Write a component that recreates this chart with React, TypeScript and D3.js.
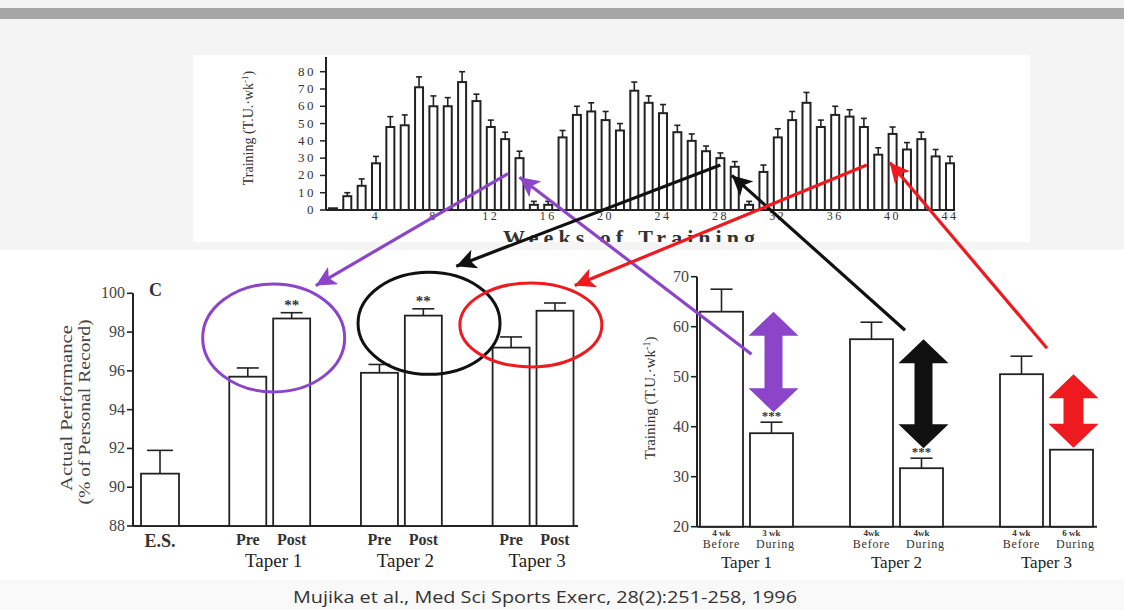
import React from 'react';
import * as d3 from 'd3';

// weekly training load over the season (T.U. per week), weeks 1..44
const weeklyLoad = [1, 8, 14, 27, 48, 49, 71, 60, 60, 74, 63, 48, 41, 30, 3, 3, 42, 55, 57, 52, 46, 69, 62, 56, 45, 40, 34, 30, 25, 3, 22, 42, 52, 62, 48, 55, 54, 48, 32, 44, 35, 41, 31, 27];
const weeklyErr = [0, 2, 4, 4, 6, 6, 6, 6, 5, 6, 4, 4, 4, 4, 2, 2, 4, 5, 5, 5, 4, 5, 4, 5, 4, 4, 3, 3, 3, 2, 4, 5, 5, 6, 4, 5, 4, 5, 4, 4, 4, 4, 4, 4];
const topTicksY = [0, 10, 20, 30, 40, 50, 60, 70, 80];
const topTicksX = [4, 8, 12, 16, 20, 24, 28, 32, 36, 40, 44];

// panel C: actual performance (% of personal record)
const esPerf = 90.7;
const esErr = 1.2;
const tapers = ['Taper 1', 'Taper 2', 'Taper 3'];
const perfPre = [95.7, 95.9, 97.2];
const perfPreErr = [0.45, 0.43, 0.55];
const perfPost = [98.7, 98.85, 99.1];
const perfPostErr = [0.3, 0.35, 0.4];
const perfStars = ['**', '**', ''];
const perfTicks = [88, 90, 92, 94, 96, 98, 100];

// training before / during each taper
const loadBefore = [63, 57.5, 50.5];
const loadBeforeErr = [4.5, 3.4, 3.6];
const loadDuring = [38.7, 31.7, 35.4];
const loadDuringErr = [2.2, 2, 0];
const loadStars = ['***', '***', ''];
const beforeLabels = ['4 wk', '4wk', '4 wk'];
const duringLabels = ['3 wk', '4wk', '6 wk'];
const loadTicks = [20, 30, 40, 50, 60, 70];

const taperColors = ['#8c45c9', '#111111', '#ee1a1f'];

const serif = '"Liberation Serif", "DejaVu Serif", serif';

export default function App() {
  // scales
  const xTop = d3.scaleLinear().domain([4, 44]).range([376, 950]);
  const yTop = d3.scaleLinear().domain([0, 80]).range([210, 71.7]);

  const xPerf = d3.scaleLinear().domain([0, 9]).range([160, 555]);
  const yPerf = d3.scaleLinear().domain([88, 100]).range([526, 293.3]);

  const xLoad = d3.scaleLinear().domain([0, 7]).range([721.5, 1071.5]);
  const yLoad = d3.scaleLinear().domain([20, 70]).range([526.7, 276.7]);

  const ink = '#222';

  const bar = (x, y0, y1, w, sw = 1.8) => (
    <rect x={x - w / 2} y={y1} width={w} height={y0 - y1} fill="#fff" stroke={ink} strokeWidth={sw} />
  );
  const err = (x, y, yE, cap) => (
    <g stroke={ink} strokeWidth={1.6}>
      <line x1={x} x2={x} y1={y} y2={yE} />
      <line x1={x - cap / 2} x2={x + cap / 2} y1={yE} y2={yE} />
    </g>
  );

  const dblArrow = (cx, yT, yB, color, headW, headL, shaftW) => {
    const p = [
      [cx, yT], [cx + headW / 2, yT + headL], [cx + shaftW / 2, yT + headL],
      [cx + shaftW / 2, yB - headL], [cx + headW / 2, yB - headL], [cx, yB],
      [cx - headW / 2, yB - headL], [cx - shaftW / 2, yB - headL],
      [cx - shaftW / 2, yT + headL], [cx - headW / 2, yT + headL],
    ];
    return <polygon points={p.map(d => d.join(',')).join(' ')} fill={color} />;
  };

  // annotation anchors (in each chart's own units)
  const links = [
    { from: [xTop(13.2), yTop(21)], to: [xPerf(3.55), yPerf(100.4)], back: [xLoad(0.6), yLoad(54.5)], backTo: [xTop(14), yTop(19)] },
    { from: [xTop(28), yTop(26)], to: [xPerf(6.75), yPerf(101.4)], back: [xLoad(3.67), yLoad(59.3)], backTo: [xTop(28.8), yTop(20)] },
    { from: [xTop(38.2), yTop(26)], to: [xPerf(9.45), yPerf(100.4)], back: [xLoad(6.51), yLoad(55.7)], backTo: [xTop(39.8), yTop(27.5)] },
  ];
  const ellipses = [
    { cx: xPerf(2.59), cy: yPerf(97.7), rx: 71, ry: 54 },
    { cx: xPerf(6.13), cy: yPerf(98.45), rx: 71, ry: 51 },
    { cx: xPerf(8.45), cy: yPerf(98.37), rx: 71, ry: 42 },
  ];

  return (
    <svg width={1124} height={610} style={{ position: 'absolute', left: 0, top: 0, display: 'block' }} fontFamily={serif}>
      <defs>
        {taperColors.map((c, i) => (
          <marker key={i} id={`ah${i}`} markerUnits="userSpaceOnUse" markerWidth={22} markerHeight={20}
            refX={20} refY={10} orient="auto">
            <path d="M0,0 L20,10 L0,20 L5,10 Z" fill={c} />
          </marker>
        ))}
        <clipPath id="topClip"><rect x={193} y={55} width={837} height={187} /></clipPath>
      </defs>

      {/* page background */}
      <rect width={1124} height={610} fill="#f4f4f4" />
      <rect x={0} y={8} width={1124} height={11} fill="#a6a6a6" />
      <rect x={0} y={250} width={1124} height={330} fill="#ffffff" />
      <rect x={0} y={580} width={1124} height={30} fill="#f9f9f9" />

      {/* top panel: weekly training */}
      <rect x={193} y={55} width={837} height={187} fill="#ffffff" />
      <g clipPath="url(#topClip)">
        <line x1={326} x2={326} y1={yTop(0)} y2={57} stroke={ink} strokeWidth={2} />
        <line x1={326} x2={955} y1={yTop(0)} y2={yTop(0)} stroke={ink} strokeWidth={1.8} />
        {topTicksY.map(t => (
          <g key={t}>
            <line x1={320} x2={326} y1={yTop(t)} y2={yTop(t)} stroke={ink} strokeWidth={1.5} />
            <text x={316} y={yTop(t) + 4} textAnchor="end" fontSize={13} letterSpacing={2.5} fill="#333">{t}</text>
          </g>
        ))}
        {topTicksX.map(t => (
          <text key={t} x={xTop(t)} y={220} textAnchor="middle" fontSize={12} letterSpacing={2.5} fill="#333">{t}</text>
        ))}
        {weeklyLoad.map((v, i) => {
          const x = xTop(i + 1);
          return (
            <g key={i}>
              {weeklyErr[i] > 0 && err(x, yTop(v), yTop(v + weeklyErr[i]), 6)}
              {bar(x, yTop(0), yTop(v), 8, 2)}
            </g>
          );
        })}
        <text transform={`translate(253,128) rotate(-90)`} textAnchor="middle" fontSize={14} fill="#333">
          Training (T.U.·wk<tspan fontSize={9} dy={-5}>-1</tspan><tspan dy={5}>)</tspan>
        </text>
        <text x={503} y={245} fontSize={22} fontWeight="bold" fill="#333" textLength={252} lengthAdjust="spacing">Weeks of Training</text>
      </g>

      {/* panel C: performance */}
      <line x1={133} x2={133} y1={yPerf(88)} y2={yPerf(100)} stroke={ink} strokeWidth={2} />
      <line x1={133} x2={578} y1={yPerf(88)} y2={yPerf(88)} stroke={ink} strokeWidth={2} />
      {perfTicks.map(t => (
        <g key={t}>
          <line x1={127} x2={133} y1={yPerf(t)} y2={yPerf(t)} stroke={ink} strokeWidth={1.6} />
          <text x={125} y={yPerf(t) + 5} textAnchor="end" fontSize={16} fill="#444">{t}</text>
        </g>
      ))}
      <text x={149} y={296} fontSize={18} fontWeight="bold" fill="#333">C</text>
      <text transform="translate(72,408) rotate(-90)" textAnchor="middle" fontSize={17} fill="#444" textLength={166} lengthAdjust="spacingAndGlyphs">Actual Performance</text>
      <text transform="translate(90,412) rotate(-90)" textAnchor="middle" fontSize={17} fill="#444" textLength={185} lengthAdjust="spacingAndGlyphs">(% of Personal Record)</text>

      {err(xPerf(0), yPerf(esPerf), yPerf(esPerf + esErr), 26)}
      {bar(xPerf(0), yPerf(88), yPerf(esPerf), 38)}
      <text x={xPerf(0)} y={547} textAnchor="middle" fontSize={18} fontWeight="bold" fill="#333">E.S.</text>

      {tapers.map((t, i) => {
        const xp = xPerf(3 * i + 2);
        const xq = xPerf(3 * i + 3);
        return (
          <g key={t}>
            {err(xp, yPerf(perfPre[i]), yPerf(perfPre[i] + perfPreErr[i]), 22)}
            {bar(xp, yPerf(88), yPerf(perfPre[i]), 37)}
            {err(xq, yPerf(perfPost[i]), yPerf(perfPost[i] + perfPostErr[i]), 22)}
            {bar(xq, yPerf(88), yPerf(perfPost[i]), 37)}
            {perfStars[i] && (
              <text x={xq} y={yPerf(perfPost[i] + perfPostErr[i]) - 3} textAnchor="middle" fontSize={15} fontWeight="bold" fill="#333">{perfStars[i]}</text>
            )}
            <text x={xp} y={545} textAnchor="middle" fontSize={16} fontWeight="bold" fill="#333">Pre</text>
            <text x={xq} y={545} textAnchor="middle" fontSize={16} fontWeight="bold" fill="#333">Post</text>
            <text x={(xp + xq) / 2 + 4} y={567} textAnchor="middle" fontSize={19} fill="#222">{t}</text>
          </g>
        );
      })}

      {/* training before / during taper */}
      <line x1={697} x2={697} y1={yLoad(20)} y2={yLoad(70)} stroke={ink} strokeWidth={2} />
      <line x1={697} x2={1097} y1={yLoad(20)} y2={yLoad(20)} stroke={ink} strokeWidth={2} />
      {loadTicks.map(t => (
        <g key={t}>
          <line x1={691} x2={697} y1={yLoad(t)} y2={yLoad(t)} stroke={ink} strokeWidth={1.6} />
          <text x={689} y={yLoad(t) + 5} textAnchor="end" fontSize={16} fill="#444">{t}</text>
        </g>
      ))}
      <text transform="translate(655,398) rotate(-90)" textAnchor="middle" fontSize={15} fill="#333">
        Training (T.U.·wk<tspan fontSize={10} dy={-5}>-1</tspan><tspan dy={5}>)</tspan>
      </text>

      {tapers.map((t, i) => {
        const xb = xLoad(3 * i);
        const xd = xLoad(3 * i + 1);
        return (
          <g key={t}>
            {err(xb, yLoad(loadBefore[i]), yLoad(loadBefore[i] + loadBeforeErr[i]), 22)}
            {bar(xb, yLoad(20), yLoad(loadBefore[i]), 43)}
            {loadDuringErr[i] > 0 && err(xd, yLoad(loadDuring[i]), yLoad(loadDuring[i] + loadDuringErr[i]), 22)}
            {bar(xd, yLoad(20), yLoad(loadDuring[i]), 43)}
            {loadStars[i] && (
              <text x={xd} y={yLoad(loadDuring[i] + loadDuringErr[i]) - 2} textAnchor="middle" fontSize={13} fontWeight="bold" fill="#333">{loadStars[i]}</text>
            )}
            <text x={xb} y={536} textAnchor="middle" fontSize={9} fontWeight="bold" fill="#333">{beforeLabels[i]}</text>
            <text x={xd} y={536} textAnchor="middle" fontSize={9} fontWeight="bold" fill="#333">{duringLabels[i]}</text>
            <text x={xb} y={548} textAnchor="middle" fontSize={12} letterSpacing={0.8} fill="#333">Before</text>
            <text x={xd + 4} y={548} textAnchor="middle" fontSize={12} letterSpacing={0.8} fill="#333">During</text>
            <text x={(xb + xd) / 2} y={568} textAnchor="middle" fontSize={17} fill="#222">{t}</text>
            {dblArrow(xd + 2, yLoad(loadBefore[i]), yLoad(loadDuring[i] + loadDuringErr[i]) - (loadStars[i] ? 10 : 2), taperColors[i], 50, 24, i === 2 ? 20 : 18)}
          </g>
        );
      })}

      {/* ellipses and linking arrows */}
      {ellipses.map((e, i) => (
        <ellipse key={i} cx={e.cx} cy={e.cy} rx={e.rx} ry={e.ry} fill="none" stroke={taperColors[i]} strokeWidth={3} />
      ))}
      {links.map((l, i) => (
        <g key={i} stroke={taperColors[i]} strokeWidth={3.2}>
          <line x1={l.from[0]} y1={l.from[1]} x2={l.to[0]} y2={l.to[1]} markerEnd={`url(#ah${i})`} />
          <line x1={l.back[0]} y1={l.back[1]} x2={l.backTo[0]} y2={l.backTo[1]} markerEnd={`url(#ah${i})`} />
        </g>
      ))}

      <text x={545} y={603} textAnchor="middle" fontSize={16} fontFamily='"Open Sans", "Noto Sans", sans-serif' fill="#333" textLength={504} lengthAdjust="spacingAndGlyphs">
        Mujika et al., Med Sci Sports Exerc, 28(2):251-258, 1996
      </text>
    </svg>
  );
}
